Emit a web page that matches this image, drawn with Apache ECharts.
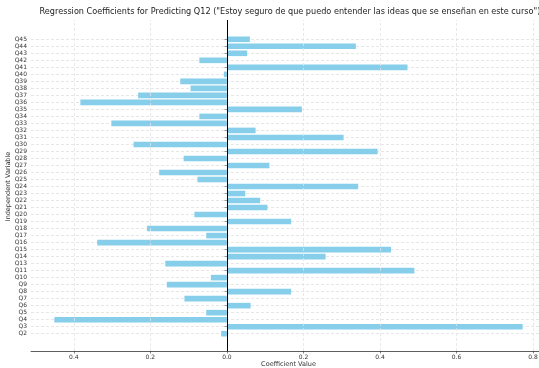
<!DOCTYPE html>
<html>
<head>
<meta charset="utf-8">
<script src="https://cdn.jsdelivr.net/npm/echarts@6/dist/echarts.min.js"></script>
<style>html,body{margin:0;padding:0;background:#fff;}#chart{width:539px;height:368px;}</style>
</head>
<body>
<div id="chart"></div>
<script>
const titleText = 'Regression Coefficients for Predicting Q12 ("Estoy seguro de que puedo entender las ideas que se enseñan en este curso")';
const xAxisName = 'Coefficient Value';
const yAxisName = 'Independent Variable';
const categories = ['Q2','Q3','Q4','Q5','Q6','Q7','Q8','Q9','Q10','Q11','Q13','Q14','Q15','Q16','Q17','Q18','Q19','Q20','Q21','Q22','Q23','Q24','Q25','Q26','Q27','Q28','Q29','Q30','Q31','Q32','Q33','Q34','Q35','Q36','Q37','Q38','Q39','Q40','Q41','Q42','Q43','Q44','Q45'];
const coefficients = [-0.015,0.773,-0.451,-0.054,0.062,-0.111,0.168,-0.157,-0.042,0.490,-0.161,0.258,0.429,-0.339,-0.054,-0.209,0.168,-0.085,0.106,0.087,0.048,0.343,-0.077,-0.177,0.111,-0.113,0.394,-0.244,0.305,0.075,-0.302,-0.072,0.196,-0.383,-0.232,-0.095,-0.122,-0.008,0.472,-0.072,0.053,0.337,0.060];
const xTicks = [-0.4,-0.2,0.0,0.2,0.4,0.6,0.8];
const xMin = -0.512, xMax = 0.834;
const zeroLine = 0;

const FONT = 'DejaVu Sans';
const chart = echarts.init(document.getElementById('chart'), null, {renderer:'canvas'});
function fmt(v){
  const r = Math.round(v*10)/10;
  if (Math.abs(v - r) > 1e-6) return '';
  if (xTicks.indexOf(r) < 0) return '';
  return Math.abs(r).toFixed(1);
}
chart.setOption({
  animation:false,
  backgroundColor:'#fff',
  title:{text:titleText,left:285,top:3,textAlign:'center',
    textStyle:{fontFamily:FONT,fontSize:8.15,fontWeight:'normal',color:'#222'}},
  grid:[
    {left:31,right:-7,top:20,bottom:17,containLabel:false,outerBoundsMode:'none'},
    {left:31,right:-7,top:39.3,bottom:34.3,containLabel:false,outerBoundsMode:'none'}
  ],
  xAxis:[
    {type:'value',gridIndex:0,min:xMin,max:xMax,minInterval:0.2,maxInterval:0.2,
     name:xAxisName,nameLocation:'middle',nameGap:10,nameMoveOverlap:false,
     nameTextStyle:{fontFamily:FONT,fontSize:6.5,color:'#333'},
     axisLine:{show:true,onZero:false,lineStyle:{color:'#333',width:0.8}},
     axisTick:{show:true,length:2.5,lineStyle:{color:'#333',width:0.6}},
     axisLabel:{fontFamily:FONT,fontSize:6,color:'#333',margin:3,formatter:fmt,showMinLabel:false,showMaxLabel:false},
     splitLine:{show:false}},
    {type:'value',gridIndex:1,min:xMin,max:xMax,show:false,splitLine:{show:false}}
  ],
  yAxis:[
    {type:'value',gridIndex:0,min:0,max:1,show:false,splitLine:{show:false}},
    {type:'category',gridIndex:1,data:categories,boundaryGap:false,
     name:yAxisName,nameLocation:'middle',nameGap:19,nameMoveOverlap:false,
     nameTextStyle:{fontFamily:FONT,fontSize:6.5,color:'#333'},
     axisLine:{show:false},
     axisTick:{show:true,length:2.5,alignWithLabel:true,lineStyle:{color:'#555',width:0.6}},
     axisLabel:{fontFamily:FONT,fontSize:6,color:'#333',margin:4,interval:0},
     splitLine:{show:true,lineStyle:{color:'#e0e0e0',type:[3,2],width:0.8}}}
  ],
  series:[
    {type:'line',xAxisIndex:0,yAxisIndex:0,data:[],silent:true,
     markLine:{silent:true,symbol:'none',label:{show:false},animation:false,
       data:xTicks.filter(v=>v!==0).map(v=>({xAxis:v})),
       lineStyle:{color:'#e3e3e3',type:[3,2],width:0.8}}},
    {type:'bar',xAxisIndex:1,yAxisIndex:1,data:coefficients,barWidth:'80%',clip:false,
     itemStyle:{color:'#87CEEB'}},
    {type:'line',xAxisIndex:0,yAxisIndex:0,data:[],silent:true,z:5,
     markLine:{silent:true,symbol:'none',label:{show:false},animation:false,
       data:[{xAxis:zeroLine}],
       lineStyle:{color:'#000',type:'solid',width:1}}}
  ]
});
</script>
</body>
</html>
